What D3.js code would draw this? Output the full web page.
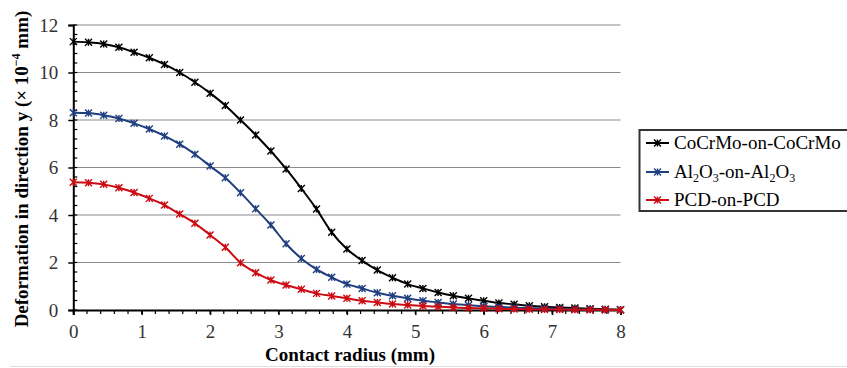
<!DOCTYPE html>
<html><head><meta charset="utf-8">
<script src="https://cdn.jsdelivr.net/npm/d3@7/dist/d3.min.js"></script>
<style>body{margin:0;background:#fff}svg{display:block}</style>
</head><body><svg id="c" width="847" height="368"></svg>
<script>
const radius = d3.range(37).map(k => 8 * k / 36);
const cocrmo = [11.30,11.27,11.20,11.06,10.85,10.62,10.34,10.00,9.59,9.13,8.61,8.00,7.37,6.69,5.94,5.12,4.25,3.27,2.57,2.08,1.68,1.36,1.09,0.91,0.74,0.60,0.49,0.39,0.29,0.24,0.18,0.14,0.11,0.08,0.05,0.03,0.01];
const al2o3 = [8.31,8.29,8.20,8.06,7.86,7.62,7.33,6.98,6.56,6.06,5.57,4.94,4.26,3.58,2.79,2.17,1.71,1.38,1.09,0.91,0.73,0.60,0.49,0.39,0.32,0.25,0.20,0.16,0.13,0.10,0.08,0.06,0.05,0.03,0.02,0.01,0.01];
const pcd = [5.38,5.36,5.29,5.15,4.95,4.70,4.42,4.04,3.65,3.16,2.64,1.99,1.57,1.26,1.05,0.87,0.70,0.59,0.49,0.39,0.32,0.25,0.21,0.17,0.14,0.11,0.08,0.07,0.05,0.04,0.03,0.02,0.02,0.01,0.01,0.01,0.00];
const xTicks = [0,1,2,3,4,5,6,7,8];
const yTicks = [0,2,4,6,8,10,12];
const seriesNames = ["CoCrMo-on-CoCrMo","Al2O3-on-Al2O3","PCD-on-PCD"];
const seriesColors = ["#000000","#1f3f7f","#cc0a12"];
const seriesValues = [cocrmo, al2o3, pcd];

const svg = d3.select("#c");
const font = "'Liberation Serif','Times New Roman',serif";
const x = d3.scaleLinear().domain([0,8]).range([73.3,620.5]);
const y = d3.scaleLinear().domain([0,12]).range([310,25]);

// gridlines
svg.append("g").selectAll("line").data(yTicks.filter(d=>d>0)).join("line")
  .attr("x1",x(0)).attr("x2",x(8)).attr("y1",d=>y(d)).attr("y2",d=>y(d))
  .attr("stroke","#8a8a8a").attr("stroke-width",1.2);

// minor ticks
svg.append("g").selectAll("line").data(d3.range(0,12.01,0.4)).join("line")
  .attr("x1",x(0)).attr("x2",x(0)+4).attr("y1",d=>y(d)).attr("y2",d=>y(d))
  .attr("stroke","#000").attr("stroke-width",1.2);
svg.append("g").selectAll("line").data(d3.range(0,8.01,0.2)).join("line")
  .attr("x1",d=>x(d)).attr("x2",d=>x(d)).attr("y1",y(0)).attr("y2",y(0)+4)
  .attr("stroke","#000").attr("stroke-width",1.2);

// axes
const yAxis = svg.append("g").attr("transform",`translate(${x(0)},0)`)
  .call(d3.axisLeft(y).tickValues(yTicks).tickSize(5).tickPadding(10).tickFormat(d3.format("d")));
const xAxis = svg.append("g").attr("transform",`translate(0,${y(0)})`)
  .call(d3.axisBottom(x).tickValues(xTicks).tickSize(5).tickPadding(10).tickFormat(d3.format("d")));
[yAxis,xAxis].forEach(a=>{
  a.attr("font-family",font).attr("font-size",19);
  a.select(".domain").attr("stroke","#000").attr("stroke-width",2);
  a.selectAll(".tick line").attr("stroke","#000").attr("stroke-width",1.5);
  a.selectAll("text").attr("font-family",font).attr("font-size",19).attr("fill","#333");
});

// series
const line = d3.line().x((d,i)=>x(radius[i])).y(d=>y(d)).curve(d3.curveMonotoneX);
function star(g, cx, cy, color){
  const s=3.5;
  g.append("path").attr("d",`M${cx-s},${cy-s}L${cx+s},${cy+s}M${cx-s},${cy+s}L${cx+s},${cy-s}M${cx},${cy-s}L${cx},${cy+s}`)
    .attr("stroke",color).attr("stroke-width",1.4).attr("fill","none");
}
seriesValues.forEach((vals,si)=>{
  const g = svg.append("g");
  g.append("path").datum(vals).attr("d",line).attr("fill","none")
    .attr("stroke",seriesColors[si]).attr("stroke-width",2);
  vals.forEach((v,i)=>star(g, x(radius[i]), y(v), seriesColors[si]));
});

// axis titles
const yl = svg.append("text").attr("transform","translate(28,169) rotate(-90)")
  .attr("text-anchor","middle").attr("font-family",font).attr("font-weight","bold")
  .attr("font-size",19).attr("fill","#000");
yl.append("tspan").text("Deformation in direction y (× 10");
yl.append("tspan").text("−4").attr("font-size",12).attr("dy",-8);
yl.append("tspan").text(" mm)").attr("dy",8);

svg.append("text").attr("x",350).attr("y",361).attr("text-anchor","middle")
  .attr("font-family",font).attr("font-weight","bold").attr("font-size",19).text("Contact radius (mm)");

// legend
svg.append("rect").attr("x",639.5).attr("y",130).attr("width",215).attr("height",81)
  .attr("fill","#fff").attr("stroke","#333").attr("stroke-width",2);
const legRows = [143,172,200];
seriesNames.forEach((n,i)=>{
  const ly = legRows[i];
  svg.append("line").attr("x1",646).attr("x2",669).attr("y1",ly).attr("y2",ly)
    .attr("stroke",seriesColors[i]).attr("stroke-width",2);
  star(svg, 657.5, ly, seriesColors[i]);
  const t = svg.append("text").attr("x",674).attr("y",ly+6).attr("font-family",font)
    .attr("font-size",19).attr("fill","#000");
  if(n.includes("Al2O3")){
    t.append("tspan").text("Al");
    t.append("tspan").text("2").attr("font-size",12).attr("dy",4);
    t.append("tspan").text("O").attr("dy",-4);
    t.append("tspan").text("3").attr("font-size",12).attr("dy",4);
    t.append("tspan").text("-on-Al").attr("dy",-4);
    t.append("tspan").text("2").attr("font-size",12).attr("dy",4);
    t.append("tspan").text("O").attr("dy",-4);
    t.append("tspan").text("3").attr("font-size",12).attr("dy",4);
  } else t.text(n);
});

// bottom faint frame line
svg.append("line").attr("x1",10).attr("x2",847).attr("y1",366.5).attr("y2",366.5)
  .attr("stroke","#ddd").attr("stroke-width",1);
</script></body></html>
